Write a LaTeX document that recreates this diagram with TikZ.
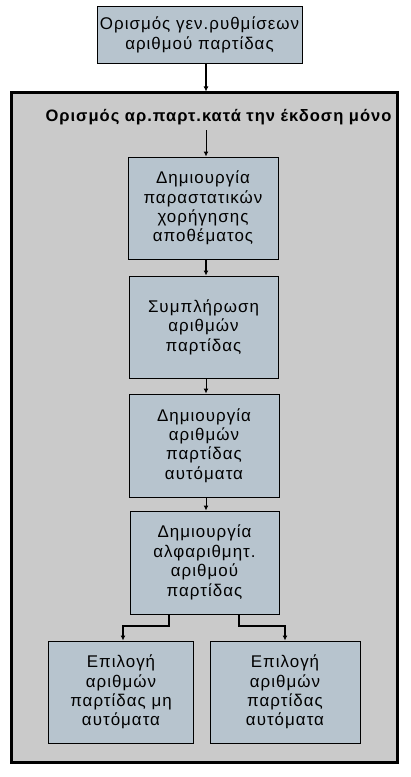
\documentclass[tikz,border=0pt]{standalone}
\usepackage{fontspec}
\setmainfont{Liberation Sans}[LetterSpace=6.0]
\usepackage{tikz}
\usetikzlibrary{calc}
\usetikzlibrary{arrows.meta}
\usetikzlibrary{positioning}
\definecolor{boxfill}{RGB}{183,196,206}
\definecolor{framefill}{RGB}{202,202,202}
\tikzset{>={Latex[length=5bp,width=5bp]}}
\tikzstyle{box} = [rectangle, draw = black, fill = boxfill, line width = 1bp, inner sep = 0, align = center, font = \fontsize{17}{19.5}\selectfont]
\tikzstyle{flow} = [->, line width = 1bp]
\tikzstyle{bold flow} = [->, line width = 2bp]

\begin{document}
\begin{tikzpicture}[x = 1bp, y = -1bp]
\useasboundingbox (0, 0) rectangle (410, 777);
\node [box, minimum width = 205bp, minimum height = 56bp] (G) at (199.5, 35) {Ορισμός γεν.ρυθμίσεων\\αριθμού παρτίδας};
\node [rectangle, draw = black, fill = framefill, line width = 3bp, minimum width = 385bp, minimum height = 669bp, inner sep = 0] (F) at (204.5, 427.5) {};
\node [draw=none, inner sep = 0, font = \fontsize{16.6}{19.5}\selectfont\bfseries] (T) at (218.5, 117) {Ορισμός αρ.παρτ.κατά την έκδοση μόνο};
\node [box, minimum width = 150bp, minimum height = 102bp] (D1) at (203, 208) {Δημιουργία\\παραστατικών\\χορήγησης\\αποθέματος};
\node [box, minimum width = 149bp, minimum height = 102bp] (D2) at (203.5, 327) {Συμπλήρωση\\αριθμών\\παρτίδας};
\node [box, minimum width = 150bp, minimum height = 103bp] (D3) at (204, 445.5) {Δημιουργία\\αριθμών\\παρτίδας\\αυτόματα};
\node [box, minimum width = 149bp, minimum height = 103bp] (D4) at (204.5, 562.5) {Δημιουργία\\αλφαριθμητ.\\αριθμού\\παρτίδας};
\node [box, minimum width = 144bp, minimum height = 102bp] (M) at (121, 692) {Επιλογή\\αριθμών\\παρτίδας μη\\αυτόματα};
\node [box, minimum width = 150bp, minimum height = 102bp] (A) at (285, 692) {Επιλογή\\αριθμών\\παρτίδας\\αυτόματα};
\coordinate (X) at (206, 0);
\coordinate (SL) at (169, 626);
\coordinate (SR) at (239, 626);
\draw [bold flow] (G.south -| X) to (F.north -| X);
\draw [flow] ($(T.south -| X) + (0, 5)$) to (D1.north -| X);
\draw [bold flow] (D1.south -| X) to (D2.north -| X);
\draw [flow] (D2.south -| X) to (D3.north -| X);
\draw [flow] (D3.south -| X) to (D4.north -| X);
\draw [bold flow] (D4.south -| SL) -- (SL) -| ($(M.north) + (2, 0)$);
\draw [bold flow] (D4.south -| SR) -- (SR) -| (A.north);
\end{tikzpicture}
\end{document}
